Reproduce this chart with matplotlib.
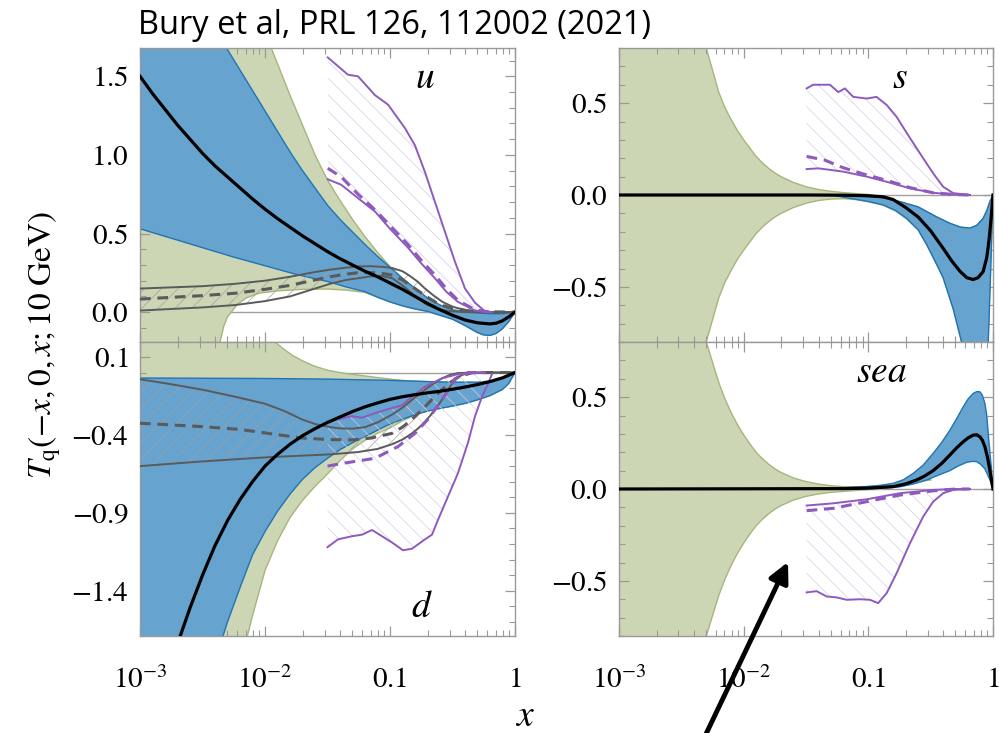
import numpy as np
import matplotlib
matplotlib.use('Agg')
import matplotlib.pyplot as plt
from matplotlib.ticker import MultipleLocator, FixedLocator, LogLocator, FuncFormatter, NullFormatter
from matplotlib.patches import FancyArrowPatch

plt.rcParams['font.family'] = ['Liberation Serif', 'DejaVu Serif']
plt.rcParams['mathtext.fontset'] = 'stix'
plt.rcParams['hatch.linewidth'] = 0.5

# all x positions are stored as log10(x)

# ---------------- u quark ----------------
u_black_lx = [-3, -2.9, -2.8, -2.7, -2.6, -2.5, -2.4, -2.3, -2.2, -2.1, -2.0, -1.9, -1.8, -1.7, -1.6, -1.5, -1.4,
              -1.3, -1.2, -1.1, -1.0, -0.9, -0.8, -0.7, -0.6, -0.5, -0.4, -0.3, -0.2, -0.15, -0.1, -0.05, 0]
u_black = [1.50, 1.39, 1.29, 1.19, 1.10, 1.01, 0.93, 0.86, 0.79, 0.72, 0.655, 0.595, 0.54, 0.485, 0.435, 0.385, 0.34,
           0.30, 0.26, 0.225, 0.185, 0.145, 0.10, 0.055, 0.015, -0.02, -0.05, -0.068, -0.075, -0.07, -0.055, -0.03, 0.0]
u_blue_hi_lx = [-3, -2.6, -2.4, -2.3, -2.2, -2.1, -2.0, -1.9, -1.8, -1.7, -1.6, -1.5, -1.4, -1.3, -1.2, -1.1, -1.0,
                -0.9, -0.8, -0.7, -0.6, -0.5, -0.4, -0.3, -0.2, -0.1, 0]
u_blue_hi = [3.0, 2.15, 1.83, 1.67, 1.54, 1.41, 1.28, 1.15, 1.02, 0.90, 0.79, 0.68, 0.59, 0.51, 0.43, 0.355, 0.285,
             0.215, 0.15, 0.09, 0.045, 0.015, 0.0, -0.005, -0.01, -0.01, 0.0]
u_blue_lo_lx = [-3, -2.75, -2.5, -2.25, -2.0, -1.75, -1.5, -1.35, -1.2, -1.1, -1.0, -0.9, -0.8, -0.7, -0.6, -0.5,
                -0.4, -0.3, -0.25, -0.2, -0.15, -0.1, -0.05, 0]
u_blue_lo = [0.53, 0.47, 0.41, 0.35, 0.295, 0.24, 0.195, 0.16, 0.13, 0.095, 0.065, 0.04, 0.02, 0.005, -0.02, -0.045,
             -0.085, -0.13, -0.145, -0.148, -0.135, -0.105, -0.06, 0.0]
u_green_hi_lx = [-3, -2.2, -2.0, -1.9, -1.8, -1.7, -1.6, -1.5, -1.4, -1.3, -1.2, -1.1, -1.0, -0.9, -0.8, -0.7, -0.6,
                 -0.5, -0.4, -0.3, -0.2, -0.1, 0]
u_green_hi = [5.0, 2.2, 1.78, 1.58, 1.38, 1.19, 1.0, 0.84, 0.71, 0.59, 0.48, 0.38, 0.29, 0.215, 0.15, 0.09, 0.045,
              0.015, 0.0, -0.005, -0.01, -0.01, 0.0]
u_green_lo_lx = [-3, -2.5, -2.42, -2.38, -2.36, -2.33, -2.3, -2.27, -2.22, -2.15, -2.05, -1.9, -1.7, -1.5, -1.35,
                 -1.2, -1.1, -1.0, -0.9, -0.8, -0.7, -0.6, -0.5, -0.4, -0.3, -0.25, -0.2, -0.15, -0.1, -0.05, 0]
u_green_lo = [-3.0, -1.5, -0.6, -0.3, -0.19, -0.09, -0.03, 0.0, 0.05, 0.09, 0.12, 0.135, 0.145, 0.147, 0.14,
              0.125, 0.095, 0.065, 0.04, 0.02, 0.005, -0.02, -0.045, -0.085, -0.13, -0.145, -0.148, -0.135, -0.105,
              -0.06, 0.0]
u_gray_hi_lx = [-3, -2.5, -2.24, -2.0, -1.8, -1.6, -1.48, -1.35, -1.26, -1.15, -1.05, -0.98, -0.9, -0.85, -0.78,
                -0.72, -0.65, -0.58, -0.5, -0.456, -0.38, -0.32, -0.2, 0]
u_gray_hi = [0.15, 0.165, 0.18, 0.20, 0.225, 0.255, 0.27, 0.283, 0.29, 0.292, 0.287, 0.28, 0.26, 0.235, 0.195,
             0.15, 0.105, 0.065, 0.035, 0.025, 0.012, 0.005, 0.0, 0.0]
u_gray_mid_lx = [-3, -2.5, -2.24, -2.0, -1.8, -1.6, -1.48, -1.35, -1.26, -1.15, -1.05, -0.98, -0.9, -0.8, -0.72,
                 -0.64, -0.57, -0.5, -0.4, -0.3, 0]
u_gray_mid = [0.083, 0.105, 0.12, 0.145, 0.17, 0.205, 0.225, 0.242, 0.25, 0.252, 0.245, 0.235, 0.205, 0.15, 0.105,
              0.065, 0.04, 0.025, 0.01, 0.003, 0.0]
u_gray_lo_lx = [-3, -2.5, -2.24, -2.0, -1.8, -1.6, -1.48, -1.35, -1.26, -1.15, -1.06, -0.98, -0.9, -0.84, -0.78,
                -0.71, -0.64, -0.57, -0.5, -0.4, -0.3, 0]
u_gray_lo = [0.01, 0.03, 0.045, 0.07, 0.10, 0.15, 0.18, 0.205, 0.215, 0.228, 0.23, 0.215, 0.17, 0.13, 0.09, 0.05,
             0.025, 0.012, 0.005, 0.0, 0.0, 0.0]
u_pur_hi_lx = [-1.498, -1.336, -1.256, -1.12, -1.016, -0.88, -0.8, -0.72, -0.64, -0.56, -0.48, -0.4, -0.32, -0.24,
               -0.184]
u_pur_hi = [1.62, 1.51, 1.50, 1.38, 1.32, 1.17, 1.06, 0.89, 0.70, 0.51, 0.32, 0.15, 0.06, 0.005, 0.0]
u_pur_lo_lx = [-1.498, -1.39, -1.256, -1.12, -1.0, -0.856, -0.75, -0.64, -0.55, -0.456, -0.32, -0.2]
u_pur_lo = [0.845, 0.81, 0.725, 0.64, 0.53, 0.41, 0.31, 0.215, 0.13, 0.065, 0.01, 0.0]
u_pur_mid_lx = [-1.498, -1.39, -1.256, -1.12, -1.0, -0.856, -0.75, -0.64, -0.55, -0.456, -0.32, -0.2]
u_pur_mid = [0.915, 0.86, 0.75, 0.65, 0.55, 0.43, 0.33, 0.235, 0.15, 0.075, 0.015, 0.0]

# ---------------- d quark ----------------
d_black_lx = [-2.8, -2.7, -2.6, -2.5, -2.4, -2.3, -2.2, -2.1, -2.0, -1.9, -1.8, -1.7, -1.6, -1.5, -1.4, -1.3, -1.2,
              -1.1, -1.0, -0.9, -0.8, -0.7, -0.6, -0.5, -0.4, -0.3, -0.2, -0.1, 0]
d_black = [-1.97, -1.74, -1.51, -1.30, -1.11, -0.95, -0.815, -0.70, -0.60, -0.525, -0.46, -0.405, -0.36, -0.32,
           -0.285, -0.25, -0.22, -0.195, -0.172, -0.155, -0.142, -0.13, -0.12, -0.107, -0.093, -0.077, -0.058,
           -0.034, 0.0]
d_blue_hi_lx = [-3, -2, -1.5, -1.0, -0.7, -0.5, -0.3, -0.2, -0.12, -0.06, 0]
d_blue_hi = [-0.035, -0.038, -0.042, -0.05, -0.058, -0.062, -0.062, -0.055, -0.04, -0.02, 0.0]
d_blue_lo_lx = [-3, -2.6, -2.5, -2.4, -2.3, -2.2, -2.1, -2.0, -1.9, -1.8, -1.7, -1.6, -1.5, -1.4, -1.3, -1.2, -1.1,
                -1.0, -0.9, -0.8, -0.7, -0.6, -0.5, -0.4, -0.3, -0.2, -0.1, -0.05, 0]
d_blue_lo = [-6.0, -2.6, -2.2, -1.85, -1.60, -1.38, -1.17, -1.02, -0.89, -0.78, -0.685, -0.61, -0.55, -0.495, -0.45,
             -0.41, -0.37, -0.33, -0.30, -0.27, -0.247, -0.23, -0.215, -0.198, -0.175, -0.148, -0.108, -0.07, 0.0]
d_green_hi_lx = [-3, -2.2, -2.0, -1.92, -1.85, -1.78, -1.7, -1.6, -1.5, -1.4, -1.3, -1.2, -1.1, -1.0, -0.9, -0.8,
                 -0.7, -0.5, -0.3, -0.2, -0.12, -0.06, 0]
d_green_hi = [1.5, 0.45, 0.26, 0.196, 0.15, 0.11, 0.075, 0.04, 0.015, 0.0, -0.012, -0.022, -0.032, -0.042, -0.05,
              -0.055, -0.058, -0.062, -0.062, -0.055, -0.04, -0.02, 0.0]
d_green_lo_lx = [-3, -2.4, -2.3, -2.2, -2.1, -2.0, -1.9, -1.8, -1.7, -1.6, -1.5, -1.4, -1.3, -1.2, -1.1, -1.0, -0.9,
                 -0.8, -0.7, -0.6, -0.5, -0.4, -0.3, -0.2, -0.1, -0.05, 0]
d_green_lo = [-8.0, -3.0, -2.4, -1.88, -1.56, -1.27, -1.08, -0.93, -0.82, -0.73, -0.65, -0.565, -0.49, -0.435,
              -0.39, -0.355, -0.31, -0.272, -0.247, -0.23, -0.215, -0.198, -0.175, -0.148, -0.108, -0.07, 0.0]
d_gray_hi_lx = [-3, -2.75, -2.5, -2.24, -2.0, -1.85, -1.706, -1.6, -1.48, -1.4, -1.3, -1.2, -1.1, -0.984, -0.9,
                -0.824, -0.72, -0.65, -0.584, -0.52, -0.456, -0.3, 0]
d_gray_hi = [-0.043, -0.075, -0.11, -0.155, -0.20, -0.245, -0.30, -0.33, -0.35, -0.358, -0.36, -0.35, -0.32, -0.27,
             -0.225, -0.175, -0.11, -0.07, -0.037, -0.015, -0.003, 0.0, 0.0]
d_gray_mid_lx = [-3, -2.5, -2.2, -1.976, -1.706, -1.48, -1.3, -1.15, -0.984, -0.9, -0.824, -0.72, -0.65, -0.584,
                 -0.52, -0.456, -0.344, 0]
d_gray_mid = [-0.325, -0.347, -0.365, -0.39, -0.42, -0.43, -0.432, -0.42, -0.39, -0.35, -0.30, -0.22, -0.16, -0.11,
              -0.065, -0.03, 0.0, 0.0]
d_gray_lo_lx = [-3, -2.5, -1.976, -1.48, -1.256, -1.1, -0.984, -0.9, -0.824, -0.77, -0.72, -0.65, -0.584, -0.52,
                -0.47, -0.424, -0.344, 0]
d_gray_lo = [-0.60, -0.57, -0.543, -0.525, -0.51, -0.49, -0.46, -0.43, -0.39, -0.355, -0.315, -0.25, -0.175, -0.09,
             -0.04, -0.015, 0.0, 0.0]
d_pur_hi_lx = [-1.5, -1.416, -1.304, -1.224, -1.12, -1.016, -0.904, -0.824, -0.72, -0.584, -0.456, -0.24]
d_pur_hi = [-0.315, -0.30, -0.28, -0.29, -0.26, -0.235, -0.21, -0.155, -0.09, -0.037, -0.01, 0.0]
d_pur_mid_lx = [-1.5, -1.36, -1.12, -0.936, -0.8, -0.696, -0.584, -0.48, -0.376, -0.24]
d_pur_mid = [-0.60, -0.58, -0.55, -0.475, -0.39, -0.30, -0.175, -0.04, 0.0, 0.0]
d_pur_lo_lx = [-1.5, -1.416, -1.304, -1.224, -1.144, -1.064, -0.984, -0.896, -0.824, -0.72, -0.664, -0.616, -0.536,
               -0.456, -0.376, -0.32, -0.264, -0.216, -0.184]
d_pur_lo = [-1.12, -1.07, -1.05, -1.04, -1.01, -1.05, -1.09, -1.14, -1.13, -1.07, -1.04, -0.945, -0.795, -0.645,
            -0.45, -0.28, -0.155, -0.07, -0.01]

# ---------------- s quark ----------------
s_green_hi_lx = [-3, -2.6, -2.45, -2.35, -2.3, -2.25, -2.2, -2.15, -2.1, -2.05, -2.0, -1.95, -1.9, -1.85, -1.8,
                 -1.75, -1.7, -1.6, -1.5, -1.4, -1.3, -1.2, -1.1, -1.0, -0.88, -0.747, -0.6, -0.532, -0.45, -0.346,
                 -0.26, -0.185, -0.13, -0.079, -0.05, -0.025, 0]
s_green_hi = [6.0, 2.1, 1.3, 0.95, 0.80, 0.68, 0.56, 0.475, 0.41, 0.35, 0.30, 0.255, 0.21, 0.175, 0.145, 0.12, 0.10,
              0.068, 0.045, 0.03, 0.02, 0.013, 0.008, 0.003, -0.015, -0.036, -0.065, -0.09, -0.12, -0.154, -0.175,
              -0.18, -0.165, -0.127, -0.085, -0.036, 0.0]
s_green_lo_lx = [-3, -2.6, -2.45, -2.35, -2.3, -2.25, -2.2, -2.15, -2.1, -2.05, -2.0, -1.95, -1.9, -1.85, -1.8,
                 -1.75, -1.7, -1.6, -1.5, -1.4, -1.3, -1.2, -1.1, -1.0, -0.88, -0.78, -0.693, -0.6, -0.532, -0.45,
                 -0.4, -0.319, -0.252, -0.2, -0.06, 0]
s_green_lo = [-6.0, -2.1, -1.3, -0.95, -0.80, -0.68, -0.56, -0.475, -0.41, -0.35, -0.30, -0.255, -0.21, -0.175,
              -0.145, -0.12, -0.10, -0.068, -0.045, -0.03, -0.022, -0.02, -0.025, -0.037, -0.056, -0.087, -0.13,
              -0.19, -0.27, -0.38, -0.45, -0.62, -0.80, -1.2, -1.2, 0.0]
s_blue_hi_lx = [-1.3, -1.014, -0.88, -0.747, -0.6, -0.532, -0.45, -0.346, -0.26, -0.185, -0.13, -0.079, -0.05,
                -0.025, 0]
s_blue_hi = [0.0, -0.009, -0.015, -0.036, -0.065, -0.09, -0.12, -0.154, -0.175, -0.18, -0.165, -0.127, -0.085,
             -0.036, 0.0]
s_blue_lo_lx = [-1.3, -1.148, -1.0, -0.88, -0.78, -0.693, -0.6, -0.532, -0.45, -0.4, -0.319, -0.252, -0.2, -0.06,
                -0.038, -0.018, 0]
s_blue_lo = [0.0, -0.018, -0.035, -0.054, -0.085, -0.127, -0.19, -0.27, -0.38, -0.45, -0.62, -0.80, -1.2, -1.2,
             -0.80, -0.4, 0.0]
s_black_lx = [-3, -1.5, -1.2, -1.0, -0.88, -0.8, -0.7, -0.6, -0.5, -0.4, -0.33, -0.265, -0.21, -0.159, -0.12,
              -0.079, -0.05, -0.038, -0.025, -0.011, 0]
s_black = [0.0, 0.0, -0.001, -0.004, -0.01, -0.025, -0.068, -0.12, -0.195, -0.29, -0.36, -0.415, -0.45, -0.46, -0.45,
           -0.417, -0.34, -0.28, -0.2, -0.09, 0.0]
s_pur_hi_lx = [-1.495, -1.442, -1.308, -1.241, -1.188, -1.121, -1.014, -0.934, -0.853, -0.773, -0.666, -0.56, -0.48,
               -0.4, -0.319, -0.185]
s_pur_hi = [0.58, 0.60, 0.60, 0.56, 0.58, 0.534, 0.525, 0.534, 0.49, 0.425, 0.31, 0.20, 0.118, 0.045, 0.01, 0.0]
s_pur_lo_lx = [-1.495, -1.4, -1.2, -1.014, -0.853, -0.666, -0.48, -0.319, -0.185]
s_pur_lo = [0.141, 0.145, 0.127, 0.10, 0.072, 0.036, 0.012, 0.003, 0.0]
s_pur_mid_lx = [-1.495, -1.35, -1.2, -1.014, -0.853, -0.666, -0.48, -0.319, -0.185]
s_pur_mid = [0.21, 0.19, 0.148, 0.109, 0.08, 0.04, 0.012, 0.003, 0.0]

# ---------------- sea ----------------
sea_green_hi_lx = [-3, -2.6, -2.45, -2.35, -2.3, -2.25, -2.2, -2.15, -2.1, -2.05, -2.0, -1.95, -1.9, -1.85, -1.8,
                   -1.75, -1.7, -1.6, -1.5, -1.4, -1.3, -1.2, -1.1, -1.0, -0.88, -0.7, -0.55, -0.5]
sea_green_hi = [6.0, 2.1, 1.3, 0.95, 0.80, 0.69, 0.58, 0.49, 0.415, 0.35, 0.295, 0.245, 0.20, 0.165, 0.135, 0.11,
                0.09, 0.06, 0.04, 0.027, 0.018, 0.013, 0.012, 0.014, 0.02, 0.035, 0.05, 0.05]
sea_green_lo_lx = [-3, -2.6, -2.45, -2.35, -2.3, -2.25, -2.2, -2.15, -2.1, -2.05, -2.0, -1.95, -1.9, -1.85, -1.8,
                   -1.75, -1.7, -1.6, -1.5, -1.4, -1.3, -1.2, -1.1, -1.0, -0.88, -0.7, -0.55, -0.5]
sea_green_lo = [-6.0, -2.1, -1.3, -0.95, -0.80, -0.69, -0.58, -0.49, -0.415, -0.35, -0.295, -0.245, -0.20, -0.165,
                -0.135, -0.11, -0.09, -0.06, -0.04, -0.027, -0.018, -0.013, -0.008, -0.003, 0.0, 0.02, 0.045, 0.05]
sea_blue_hi_lx = [-1.3, -1.014, -0.9, -0.80, -0.72, -0.64, -0.56, -0.48, -0.41, -0.346, -0.29, -0.239, -0.2, -0.159,
                  -0.13, -0.105, -0.085, -0.065, -0.05, -0.038, -0.025, -0.011, 0]
sea_blue_hi = [0.003, 0.013, 0.02, 0.031, 0.05, 0.085, 0.13, 0.194, 0.255, 0.32, 0.385, 0.447, 0.49, 0.52, 0.53,
               0.529, 0.51, 0.466, 0.40, 0.30, 0.20, 0.10, 0.0]
sea_blue_lo_lx = [-1.3, -1.014, -0.88, -0.747, -0.64, -0.532, -0.44, -0.346, -0.28, -0.212, -0.17, -0.132, -0.1,
                  -0.065, -0.045, -0.025, 0]
sea_blue_lo = [0.0, 0.0, 0.005, 0.012, 0.027, 0.049, 0.075, 0.10, 0.125, 0.145, 0.15, 0.149, 0.135, 0.11, 0.08,
               0.05, 0.0]
sea_black_lx = [-3, -1.2, -1.0, -0.8, -0.7, -0.613, -0.55, -0.48, -0.41, -0.346, -0.29, -0.239, -0.2, -0.159, -0.13,
                -0.105, -0.085, -0.065, -0.045, -0.03, -0.015, 0]
sea_black = [0.0, 0.002, 0.005, 0.013, 0.028, 0.049, 0.07, 0.10, 0.14, 0.185, 0.225, 0.257, 0.278, 0.293, 0.295,
             0.284, 0.265, 0.23, 0.175, 0.121, 0.06, 0.0]
sea_pur_hi_lx = [-1.495, -1.281, -1.014, -0.747, -0.48, -0.3, -0.185]
sea_pur_hi = [-0.09, -0.078, -0.056, -0.023, -0.005, 0.0, 0.0]
sea_pur_mid_lx = [-1.495, -1.281, -1.014, -0.747, -0.48, -0.3, -0.185]
sea_pur_mid = [-0.118, -0.105, -0.069, -0.033, -0.01, 0.0, 0.0]
sea_pur_lo_lx = [-1.495, -1.415, -1.334, -1.254, -1.174, -1.067, -0.987, -0.921, -0.853, -0.773, -0.666, -0.56,
                 -0.48, -0.4, -0.319, -0.185]
sea_pur_lo = [-0.563, -0.556, -0.585, -0.59, -0.603, -0.60, -0.603, -0.621, -0.567, -0.458, -0.295, -0.15, -0.069,
              -0.023, -0.005, 0.0]

panel_names = ['u', 'd', 's', 'sea']
ylims = [(-0.19, 1.68), (-1.69, 0.196), (-0.8, 0.8), (-0.8, 0.8)]
yticks = [[0.0, 0.5, 1.0, 1.5], [0.1, -0.4, -0.9, -1.4], [-0.5, 0.0, 0.5], [-0.5, 0.0, 0.5]]
xticks = [1e-3, 1e-2, 0.1, 1]
xticklabels = ['$10^{-3}$', '$10^{-2}$', '$0.1$', '$1$']

GREEN_F, GREEN_E = '#cdd6b4', '#a5b67a'
BLUE_F, BLUE_E = '#66a3cf', '#1f74b4'
GRAY = '#5a5a5a'
PURPLE = '#8e5abd'
AXC = '#999999'


def xs(lx):
    return 10 ** np.asarray(lx, dtype=float)


def band(ax, lx_hi, hi, lx_lo, lo, face, edge, z):
    px = np.concatenate([xs(lx_hi), xs(lx_lo)[::-1]])
    py = np.concatenate([hi, lo[::-1]])
    ax.fill(px, py, facecolor=face, edgecolor='none', lw=0, zorder=z)
    ax.plot(xs(lx_hi), hi, color=edge, lw=1.0, zorder=z + 0.1)
    ax.plot(xs(lx_lo), lo, color=edge, lw=1.0, zorder=z + 0.1)


def hatched(ax, lx_hi, hi, lx_lo, lo, color, pattern, z):
    px = np.concatenate([xs(lx_hi), xs(lx_lo)[::-1]])
    py = np.concatenate([hi, lo[::-1]])
    ax.fill(px, py, facecolor='none', edgecolor=color, hatch=pattern, lw=0, zorder=z)


fig = plt.figure(figsize=(9.99, 7.33), dpi=100)
W, H = 999.0, 733.0
pos = {
    'u': [140 / W, 1 - 342 / H, 375 / W, 294 / H],
    'd': [140 / W, 1 - 636 / H, 375 / W, 294 / H],
    's': [619 / W, 1 - 342 / H, 374 / W, 294 / H],
    'sea': [619 / W, 1 - 636 / H, 374 / W, 294 / H],
}
axes = {k: fig.add_axes(v) for k, v in pos.items()}

# green and blue uncertainty bands
band(axes['u'], u_green_hi_lx, u_green_hi, u_green_lo_lx, u_green_lo, GREEN_F, GREEN_E, 1)
band(axes['u'], u_blue_hi_lx, u_blue_hi, u_blue_lo_lx, u_blue_lo, BLUE_F, BLUE_E, 2)
band(axes['d'], d_green_hi_lx, d_green_hi, d_green_lo_lx, d_green_lo, GREEN_F, GREEN_E, 1)
band(axes['d'], d_blue_hi_lx, d_blue_hi, d_blue_lo_lx, d_blue_lo, BLUE_F, BLUE_E, 2)
band(axes['s'], s_green_hi_lx, s_green_hi, s_green_lo_lx, s_green_lo, GREEN_F, GREEN_E, 1)
band(axes['s'], s_blue_hi_lx, s_blue_hi, s_blue_lo_lx, s_blue_lo, BLUE_F, BLUE_E, 2)
band(axes['sea'], sea_green_hi_lx, sea_green_hi, sea_green_lo_lx, sea_green_lo, GREEN_F, GREEN_E, 1)
band(axes['sea'], sea_blue_hi_lx, sea_blue_hi, sea_blue_lo_lx, sea_blue_lo, BLUE_F, BLUE_E, 2)

# gray model curves (u and d only)
for k, (hx, hy, mx, my, lx, ly) in {
    'u': (u_gray_hi_lx, u_gray_hi, u_gray_mid_lx, u_gray_mid, u_gray_lo_lx, u_gray_lo),
    'd': (d_gray_hi_lx, d_gray_hi, d_gray_mid_lx, d_gray_mid, d_gray_lo_lx, d_gray_lo),
}.items():
    ax = axes[k]
    hatched(ax, hx, hy, lx, ly, '#a0a0a0', '//', 3)
    ax.plot(xs(hx), hy, color=GRAY, lw=1.4, zorder=4)
    ax.plot(xs(lx), ly, color=GRAY, lw=1.4, zorder=4)
    ax.plot(xs(mx), my, color=GRAY, lw=2.2, ls=(0, (3.5, 2.2)), zorder=4)

# purple curves
for k, (hx, hy, mx, my, lx, ly) in {
    'u': (u_pur_hi_lx, u_pur_hi, u_pur_mid_lx, u_pur_mid, u_pur_lo_lx, u_pur_lo),
    'd': (d_pur_hi_lx, d_pur_hi, d_pur_mid_lx, d_pur_mid, d_pur_lo_lx, d_pur_lo),
    's': (s_pur_hi_lx, s_pur_hi, s_pur_mid_lx, s_pur_mid, s_pur_lo_lx, s_pur_lo),
    'sea': (sea_pur_hi_lx, sea_pur_hi, sea_pur_mid_lx, sea_pur_mid, sea_pur_lo_lx, sea_pur_lo),
}.items():
    ax = axes[k]
    hatched(ax, hx, hy, lx, ly, '#d2cbe4', '\\\\', 3)
    ax.plot(xs(hx), hy, color=PURPLE, lw=1.4, zorder=5)
    ax.plot(xs(lx), ly, color=PURPLE, lw=1.4, zorder=5)
    ax.plot(xs(mx), my, color=PURPLE, lw=2.2, ls=(0, (3.5, 2.2)), zorder=5)

# central fits
axes['u'].plot(xs(u_black_lx), u_black, color='black', lw=2.3, zorder=6)
axes['d'].plot(xs(d_black_lx), d_black, color='black', lw=2.3, zorder=6)
axes['s'].plot(xs(s_black_lx), s_black, color='black', lw=2.3, zorder=6)
axes['sea'].plot(xs(sea_black_lx), sea_black, color='black', lw=2.3, zorder=6)


def fmt(v, p):
    s = '%.1f' % v
    if s == '-0.0':
        s = '0.0'
    return '$%s$' % s


for i, name in enumerate(panel_names):
    ax = axes[name]
    ax.axhline(0, color='#a0a0a0', lw=1.0, zorder=0.5)
    ax.set_xscale('log')
    ax.set_xlim(1e-3, 1)
    ax.set_ylim(*ylims[i])
    ax.xaxis.set_major_locator(FixedLocator(xticks))
    ax.xaxis.set_minor_locator(LogLocator(base=10, subs=np.arange(2, 10)))
    ax.xaxis.set_minor_formatter(NullFormatter())
    if name in ('d', 'sea'):
        ax.set_xticklabels(xticklabels)
    else:
        ax.set_xticklabels([])
    ax.yaxis.set_major_locator(FixedLocator(yticks[i]))
    ax.yaxis.set_minor_locator(MultipleLocator(0.1))
    ax.yaxis.set_major_formatter(FuncFormatter(fmt))
    ax.tick_params(which='both', direction='in', top=True, right=True, color=AXC, labelsize=21)
    ax.tick_params(which='major', length=7, width=0.9)
    ax.tick_params(which='minor', length=4, width=0.8)
    ax.tick_params(axis='y', pad=8)
    ax.tick_params(axis='x', pad=22)
    for sp in ax.spines.values():
        sp.set_color(AXC)
        sp.set_linewidth(1.0)

axes['u'].text(0.76, 0.895, '$u$', transform=axes['u'].transAxes, fontsize=27, ha='center', va='center')
axes['d'].text(0.752, 0.095, '$d$', transform=axes['d'].transAxes, fontsize=27, ha='center', va='center')
axes['s'].text(0.751, 0.895, '$s$', transform=axes['s'].transAxes, fontsize=27, ha='center', va='center')
axes['sea'].text(0.703, 0.895, '$sea$', transform=axes['sea'].transAxes, fontsize=27, ha='center', va='center')

fig.text(138 / W, 1 - 25 / H, 'Bury et al, PRL 126, 112002 (2021)', family=['Open Sans', 'DejaVu Sans'],
         fontsize=23.5, ha='left', va='center')
fig.text(45 / W, 1 - 345 / H, r'$T_{\rm q}(-x, 0, x; 10\ {\rm GeV})$', rotation=90,
         fontsize=24, ha='center', va='center')
fig.text(525 / W, 1 - 717 / H, '$x$', fontsize=27, ha='center', va='center')

arrow = FancyArrowPatch(posA=(703 / W, -0.01), posB=(788 / W, 1 - 562 / H), transform=fig.transFigure,
                        arrowstyle='-|>', mutation_scale=30, lw=3.5, color='black', shrinkA=0, shrinkB=0)
fig.add_artist(arrow)

fig.savefig('out.png', dpi=100)
